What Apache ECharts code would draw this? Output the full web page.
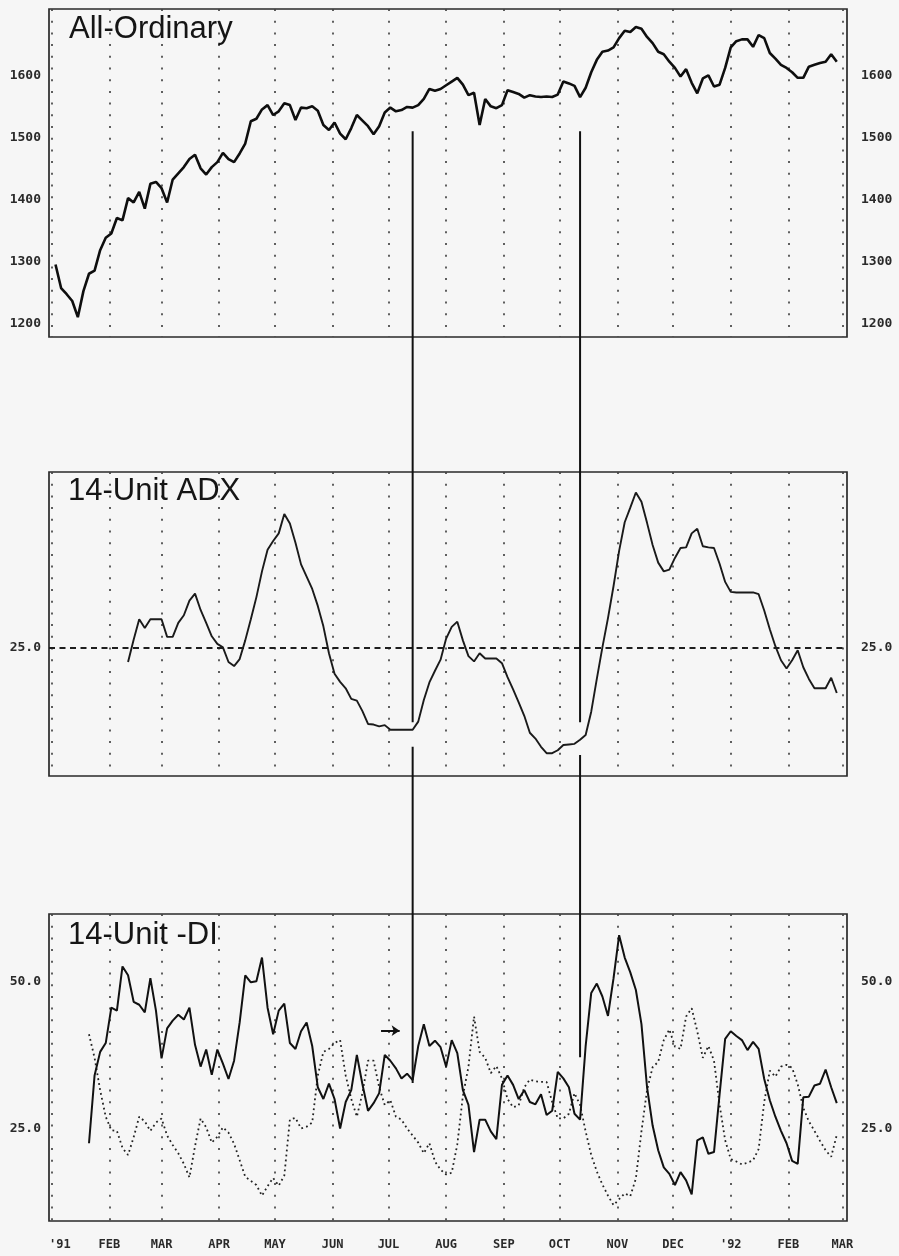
<!DOCTYPE html>
<html>
<head>
<meta charset="utf-8">
<script src="https://cdn.jsdelivr.net/npm/echarts@6/dist/echarts.min.js"></script>
<style>
html,body{margin:0;padding:0;background:#f6f6f6;}
#chart{width:899px;height:1256px;}
</style>
</head>
<body>
<div id="chart"></div>
<script>
// ---------------- data ----------------
const monthNames = ['JAN','FEB','MAR','APR','MAY','JUN','JUL','AUG','SEP','OCT','NOV','DEC'];
const stepDays = 3;
const priceStart = '1991-01-03';
const diStart = '1991-01-21';
const adxStart = '1991-02-11';

const priceValues = [
 1295,1257,1247,1236,1210,1252,1280,1285,1318,1338,
 1345,1370,1366,1402,1395,1412,1385,1425,1428,1418,
 1395,1432,1442,1452,1465,1472,1450,1440,1452,1460,
 1475,1465,1460,1474,1490,1526,1530,1545,1552,1536,
 1542,1555,1552,1528,1548,1547,1550,1543,1520,1512,
 1524,1506,1497,1515,1536,1527,1518,1505,1518,1540,
 1548,1542,1544,1549,1548,1552,1562,1578,1575,1578,
 1584,1590,1596,1585,1568,1572,1520,1562,1550,1547,
 1552,1576,1573,1570,1564,1568,1566,1565,1566,1565,
 1569,1590,1587,1583,1565,1580,1605,1625,1638,1640,
 1645,1660,1672,1670,1678,1675,1662,1652,1638,1634,
 1622,1612,1598,1610,1588,1571,1595,1600,1582,1585,
 1612,1645,1655,1658,1658,1646,1665,1660,1636,1627,
 1617,1612,1605,1596,1596,1614,1617,1620,1622,1634,
 1622
];

const adxValues = [
 22.5,26.3,29.8,28.3,29.8,29.8,29.8,26.8,26.8,29.2,
 30.5,33.0,34.2,31.4,29.2,26.9,25.6,25.0,22.5,21.8,
 23.0,26.2,29.8,33.6,38.0,41.7,43.2,44.5,47.8,46.2,
 42.9,39.2,37.1,35.0,32.1,28.6,24.0,20.5,19.1,18.0,
 16.2,15.9,14.1,11.9,11.8,11.5,11.7,10.9,10.9,10.9,
 10.9,10.9,12.3,16.0,19.0,21.0,22.9,26.5,28.5,29.4,
 26.2,23.5,22.6,24.0,23.1,23.1,23.1,22.3,19.9,17.8,
 15.6,13.3,10.4,9.4,8.0,6.9,6.9,7.4,8.3,8.4,
 8.5,9.2,10.0,14.0,19.6,25.0,30.0,35.5,41.5,46.4,
 48.9,51.5,49.9,46.3,42.5,39.5,38.0,38.3,40.3,42.0,
 42.1,44.5,45.3,42.3,42.1,42.0,39.3,36.2,34.5,34.4,
 34.4,34.4,34.4,34.1,31.3,28.1,25.2,22.8,21.4,22.8,
 24.5,21.6,19.6,18.0,18.0,18.0,19.8,17.2
];

const minusDI = [
 22.5,34.0,38.0,39.5,45.5,45.0,52.5,51.0,46.5,46.0,
 44.7,50.5,45.0,36.9,42.0,43.3,44.3,43.5,45.5,39.2,
 35.5,38.4,34.1,38.4,36.0,33.4,36.5,43.0,51.0,49.8,
 50.0,54.0,45.5,41.0,45.0,46.2,39.5,38.5,41.5,43.0,
 39.0,32.0,30.0,32.6,30.0,25.0,29.5,31.5,37.5,32.5,
 28.0,29.3,31.0,37.5,36.5,35.2,33.5,34.3,33.2,39.0,
 42.7,39.0,39.9,38.8,35.5,40.0,37.8,31.5,29.0,21.0,
 26.5,26.5,24.5,23.2,32.4,34.0,32.4,30.0,31.5,29.5,
 29.1,30.8,27.3,28.0,34.6,33.5,32.0,27.5,26.5,39.0,
 48.0,49.6,47.4,44.1,50.5,57.8,54.0,51.5,48.5,42.7,
 32.0,25.5,21.3,18.4,17.3,15.4,17.6,16.2,13.8,23.0,
 23.5,20.7,21.0,30.8,40.2,41.5,40.7,40.0,38.3,39.7,
 38.5,33.4,29.8,27.0,24.6,22.5,19.5,19.0,30.3,30.4,
 32.3,32.6,35.0,32.0,29.3
];

const plusDI = [
 41.0,37.0,31.5,27.0,24.7,24.6,21.7,20.5,23.5,27.0,
 26.2,24.6,26.0,26.7,23.8,22.2,20.8,19.0,16.7,22.0,
 26.7,25.2,22.6,23.6,25.2,24.3,22.4,19.6,16.8,16.1,
 15.4,13.6,15.2,16.6,15.3,17.0,26.5,26.8,25.0,25.3,
 26.0,34.0,38.0,38.5,39.5,40.0,34.0,30.0,27.0,31.0,
 36.5,36.5,32.0,29.0,29.8,27.0,26.5,25.0,23.8,22.6,
 20.8,22.5,19.4,18.0,17.2,17.5,22.3,30.5,35.5,44.0,
 38.0,37.0,34.4,35.6,33.5,30.0,28.6,28.9,32.0,33.3,
 33.0,32.9,32.9,29.5,26.7,26.7,27.5,31.0,29.0,24.5,
 20.5,17.7,15.5,13.6,12.0,13.0,14.0,13.5,16.5,24.5,
 31.5,35.4,36.3,40.0,41.8,38.9,38.5,44.0,45.4,41.5,
 37.0,39.0,36.5,29.0,23.0,19.8,19.4,18.9,19.2,19.6,
 21.5,29.5,34.8,33.8,35.5,35.8,35.3,32.5,28.5,26.2,
 24.6,22.9,21.3,20.2,23.9
];

const priceTicks = [1200,1300,1400,1500,1600];
const adxTicks = [25];
const diTicks = [25,50];
const adxThreshold = 25;

const arrowDates = ['1991-06-27','1991-07-07'];
const arrowLevel = 41.6;

const signals = [
  {date:'1991-07-14', priceFrom:1510, adxStop:12.2, adxResume:8.0, diTo:32.7},
  {date:'1991-10-12', priceFrom:1510, adxStop:12.2, adxResume:6.6, diTo:37.1}
];

// ---------------- helpers ----------------
const DAY = 86400000;
const toTime = s => Date.parse(s + 'T00:00:00Z');
const seriesPoints = (start, values) => values.map((v, i) => [toTime(start) + i * stepDays * DAY, v]);
const xMin = Date.UTC(1990, 11, 30, 12);
const xMax = Date.UTC(1992, 2, 3, 12);

const labelFont = 'DejaVu Sans Mono';
const ink = '#1a1a1a';

function monthFmt(value) {
  const d = new Date(value);
  if (d.getUTCDate() !== 1 || d.getUTCHours() !== 0) return '';
  const m = d.getUTCMonth();
  if (m === 0) {
    const yr = "'" + String(d.getUTCFullYear()).slice(2);
    return d.getUTCFullYear() === 1991 ? '{first|' + yr + '}' : yr;
  }
  return monthNames[m];
}

const gridDefs = [
  {top: 9, height: 328},
  {top: 472, height: 304},
  {top: 914, height: 307}
];

const grids = gridDefs.map(g => ({
  left: 49, right: 52, top: g.top, height: g.height,
  show: true, borderColor: '#2a2a2a', borderWidth: 1.7,
  backgroundColor: 'transparent', containLabel: false
}));

const xLabelStyle = {fontFamily: labelFont, fontSize: 12, fontWeight: 'bold', color: '#2a2a2a'};

const xAxes = [0,1,2].map(i => ({
  type: 'time', gridIndex: i, min: xMin, max: xMax,
  minInterval: 28 * DAY, maxInterval: 31 * DAY, splitNumber: 14,
  axisLine: {show: false}, axisTick: {show: false},
  axisLabel: i === 2 ? Object.assign({
    show: true, margin: 18, formatter: monthFmt, hideOverlap: false,
    rich: {first: Object.assign({padding: [0, 0, 0, 16]}, xLabelStyle)}
  }, xLabelStyle) : {show: false},
  splitLine: {show: true, showMinLine: false, showMaxLine: false,
    lineStyle: {color: '#444', width: 1.7, type: [2, 9.7]}}
}));

function yPair(gridIndex, min, max, ticks, fmt) {
  const base = {type: 'value', gridIndex, min, max,
    axisLine: {show: false}, axisTick: {show: false}, splitLine: {show: false}};
  const label = {customValues: ticks, formatter: fmt, fontFamily: labelFont,
    fontSize: 13, fontWeight: 'bold', color: '#2a2a2a'};
  return [
    Object.assign({}, base, {position: 'left', axisLabel: Object.assign({}, label, {margin: 8})}),
    Object.assign({}, base, {position: 'right', axisLabel: Object.assign({}, label, {margin: 14})})
  ];
}

const yAxes = [].concat(
  yPair(0, 1178, 1707, priceTicks, v => String(v)),
  yPair(1, 3, 55, adxTicks, v => Number(v).toFixed(1)),
  yPair(2, 9.3, 61.4, diTicks, v => Number(v).toFixed(1))
);

const titleStyle = {fontFamily: 'Liberation Sans', fontSize: 31, fontWeight: 'normal', color: '#151515'};

const option = {
  animation: false,
  useUTC: true,
  backgroundColor: '#f6f6f6',
  title: [
    {text: 'All-Ordinary', left: 64, top: 9, textStyle: titleStyle},
    {text: '14-Unit ADX', left: 63, top: 471, textStyle: titleStyle},
    {text: '14-Unit -DI', left: 63, top: 915, textStyle: titleStyle}
  ],
  grid: grids,
  xAxis: xAxes,
  yAxis: yAxes,
  series: [
    {type: 'line', name: 'All-Ordinary', xAxisIndex: 0, yAxisIndex: 0,
     data: seriesPoints(priceStart, priceValues), showSymbol: false,
     lineStyle: {color: '#0e0e0e', width: 2.6}, z: 5},
    {type: 'line', name: '14-Unit ADX', xAxisIndex: 1, yAxisIndex: 2,
     data: seriesPoints(adxStart, adxValues), showSymbol: false,
     lineStyle: {color: ink, width: 1.9}, z: 5,
     markLine: {silent: true, symbol: 'none', label: {show: false},
       lineStyle: {color: '#1e1e1e', width: 2, type: [6, 4.5]},
       data: [{yAxis: adxThreshold}]}},
    {type: 'line', name: '-DI', xAxisIndex: 2, yAxisIndex: 4,
     data: seriesPoints(diStart, minusDI), showSymbol: false,
     lineStyle: {color: '#111', width: 2}, z: 5,
     markLine: {silent: true, symbol: ['none', 'arrow'], symbolSize: 8, label: {show: false},
       lineStyle: {color: '#111', width: 2, type: 'solid'},
       data: [[{coord: [toTime(arrowDates[0]), arrowLevel]}, {coord: [toTime(arrowDates[1]), arrowLevel]}]]}},
    {type: 'line', name: '+DI', xAxisIndex: 2, yAxisIndex: 4,
     data: seriesPoints(diStart, plusDI), showSymbol: false,
     lineStyle: {color: '#222', width: 1.8, type: [1.8, 3.2]}, z: 4}
  ]
};

const chart = echarts.init(document.getElementById('chart'), null, {renderer: 'canvas'});
chart.setOption(option);

// signal lines that link the three panels, placed through the library's own scales
const gfx = [];
signals.forEach(s => {
  const t = toTime(s.date);
  const a1 = chart.convertToPixel({seriesIndex: 0}, [t, s.priceFrom]);
  const a2 = chart.convertToPixel({seriesIndex: 1}, [t, s.adxStop]);
  const b1 = chart.convertToPixel({seriesIndex: 1}, [t, s.adxResume]);
  const b2 = chart.convertToPixel({seriesIndex: 2}, [t, s.diTo]);
  [[a1, a2], [b1, b2]].forEach(([p, q]) => {
    gfx.push({type: 'line', z: 50, silent: true,
      shape: {x1: p[0], y1: p[1], x2: q[0], y2: q[1]},
      style: {stroke: '#111', lineWidth: 2}});
  });
});
chart.setOption({graphic: gfx});
</script>
</body>
</html>
